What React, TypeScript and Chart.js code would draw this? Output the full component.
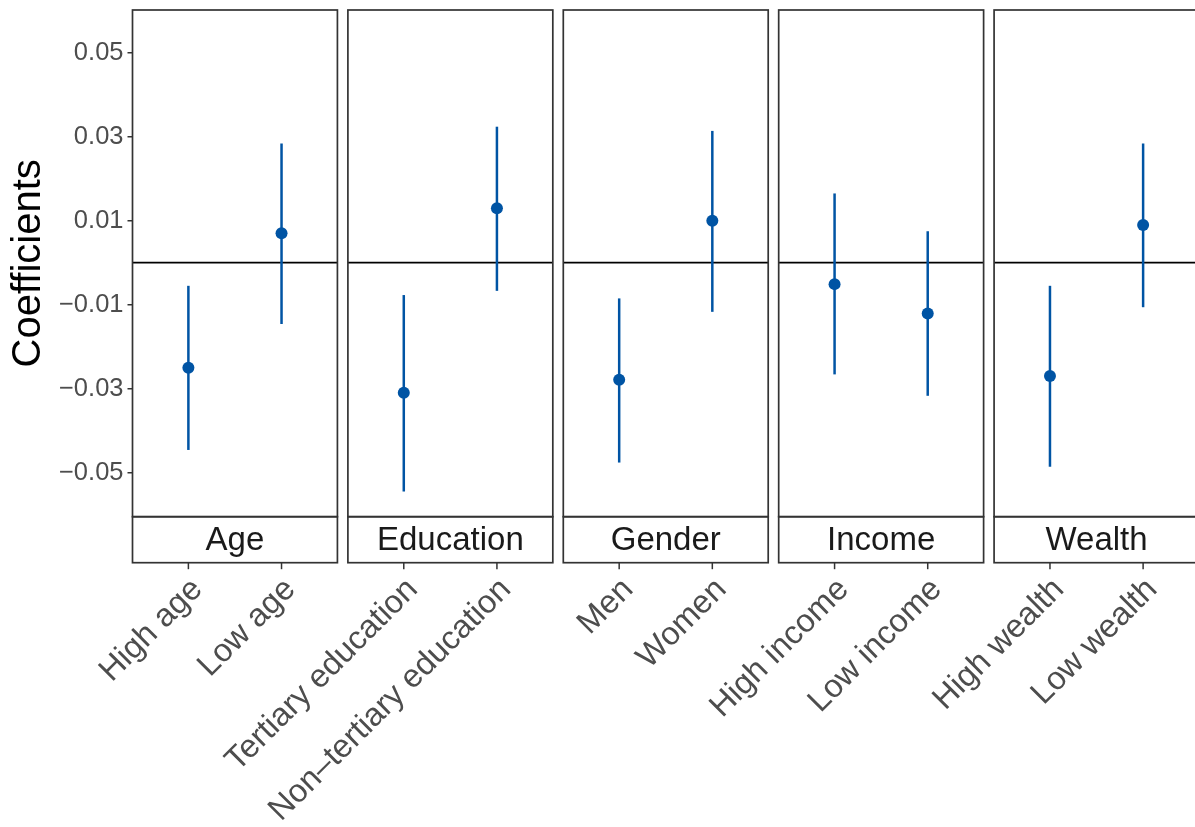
import { useEffect, useRef } from 'react';
import { Chart, registerables } from 'chart.js';

Chart.register(...registerables);

// ---- data ----
const groups = ['Age', 'Education', 'Gender', 'Income', 'Wealth'];
const categories = [
  'High age', 'Low age',
  'Tertiary education', 'Non\u2013tertiary education',
  'Men', 'Women',
  'High income', 'Low income',
  'High wealth', 'Low wealth',
];
const estimates = [-0.0250, 0.0070, -0.0310, 0.0130, -0.0279, 0.0100, -0.0051, -0.0121, -0.0270, 0.0090];
const lower = [-0.0446, -0.0146, -0.0545, -0.0067, -0.0476, -0.0117, -0.0266, -0.0317, -0.0486, -0.0106];
const upper = [-0.0055, 0.0284, -0.0077, 0.0324, -0.0085, 0.0314, 0.0165, 0.0075, -0.0055, 0.0284];
const yTicks = [-0.05, -0.03, -0.01, 0.01, 0.03, 0.05];

// ---- layout constants ----
const PANEL_W = 2.2;
const PERIOD = 2.3125;
const XMAX = 4 * PERIOD + PANEL_W;
const xPos = categories.map((_, i) => Math.floor(i / 2) * PERIOD + 0.6 + (i % 2));
const BLUE = '#0054A4';
const FONT = '"Liberation Sans", Arial, Helvetica, sans-serif';
const STRIP_H = 46;

const fmt = (v: number) => {
  const s = Math.abs(v).toFixed(2);
  return v < 0 ? '\u2212' + s : s;
};

const facetPlugin = {
  id: 'facets',
  beforeDatasetsDraw(chart: any) {
    const { ctx, scales } = chart;
    const xs = scales.x, ys = scales.y;
    const y0 = ys.getPixelForValue(0);
    ctx.save();
    ctx.strokeStyle = '#000000';
    ctx.lineWidth = 1.8;
    groups.forEach((_, p) => {
      const l = xs.getPixelForValue(p * PERIOD);
      const r = xs.getPixelForValue(p * PERIOD + PANEL_W);
      ctx.beginPath();
      ctx.moveTo(l, y0);
      ctx.lineTo(r, y0);
      ctx.stroke();
    });
    ctx.strokeStyle = BLUE;
    ctx.lineWidth = 2.5;
    categories.forEach((_, i) => {
      const x = xs.getPixelForValue(xPos[i]);
      ctx.beginPath();
      ctx.moveTo(x, ys.getPixelForValue(lower[i]));
      ctx.lineTo(x, ys.getPixelForValue(upper[i]));
      ctx.stroke();
    });
    ctx.restore();
  },
  afterDatasetsDraw(chart: any) {
    const { ctx, chartArea, scales } = chart;
    const xs = scales.x;
    const top = chartArea.top, bottom = chartArea.bottom;
    ctx.save();
    ctx.strokeStyle = '#333333';
    ctx.lineWidth = 1.7;
    groups.forEach((g, p) => {
      const l = xs.getPixelForValue(p * PERIOD);
      const r = xs.getPixelForValue(p * PERIOD + PANEL_W);
      ctx.strokeRect(l, top, r - l, bottom - top);
      ctx.strokeRect(l, bottom, r - l, STRIP_H);
      ctx.fillStyle = '#1A1A1A';
      ctx.font = `33px ${FONT}`;
      ctx.textAlign = 'center';
      ctx.textBaseline = 'middle';
      ctx.fillText(g, (l + r) / 2, bottom + STRIP_H / 2 + 1);
    });
    ctx.lineWidth = 1.5;
    categories.forEach((_, i) => {
      const x = xs.getPixelForValue(xPos[i]);
      ctx.beginPath();
      ctx.moveTo(x, bottom + STRIP_H);
      ctx.lineTo(x, bottom + STRIP_H + 6.5);
      ctx.stroke();
    });
    ctx.restore();
  },
};

export default function App() {
  const ref = useRef<HTMLCanvasElement | null>(null);
  useEffect(() => {
    if (!ref.current) return;
    Chart.defaults.font.family = FONT;
    const chart = new Chart(ref.current, {
      type: 'scatter',
      data: {
        datasets: [
          {
            data: xPos.map((x, i) => ({ x, y: estimates[i] })),
            pointRadius: 6,
            pointHoverRadius: 6,
            backgroundColor: BLUE,
            borderWidth: 0,
          },
        ],
      },
      options: {
        responsive: false,
        animation: false,
        layout: { padding: { top: 10, right: 5.5, left: 0, bottom: 0 } },
        plugins: { legend: { display: false }, tooltip: { enabled: false } },
        scales: {
          x: {
            type: 'linear',
            min: 0,
            max: XMAX,
            afterFit: (s: any) => {
              s.height = 827 - 516.7;
              s.paddingLeft = 0; s.paddingRight = 0; s.paddingTop = 0; s.paddingBottom = 0;
            },
            afterBuildTicks: (s: any) => { s.ticks = xPos.map((v) => ({ value: v })); },
            ticks: {
              autoSkip: false,
              minRotation: 45,
              maxRotation: 45,
              padding: 54,
              labelOffset: 9,
              color: '#4D4D4D',
              font: { size: 32.5, family: FONT },
              callback: (_v: any, i: number) => categories[i],
            },
            grid: { display: false, drawTicks: false },
            border: { display: false },
          },
          y: {
            min: -0.0605,
            max: 0.0602,
            afterFit: (s: any) => {
              s.width = 132.5;
              s.paddingLeft = 0; s.paddingRight = 0; s.paddingTop = 0; s.paddingBottom = 0;
            },
            afterBuildTicks: (s: any) => { s.ticks = yTicks.map((v) => ({ value: v })); },
            ticks: {
              padding: 4,
              color: '#4D4D4D',
              font: { size: 25.5, family: FONT },
              callback: (v: any) => fmt(Number(v)),
            },
            grid: { drawOnChartArea: false, drawTicks: true, tickLength: 5, color: '#333333', lineWidth: 1.5 },
            border: { display: false },
            title: {
              display: true,
              text: 'Coefficients',
              color: '#000000',
              font: { size: 40, family: FONT },
              padding: { top: 5, bottom: 0 },
            },
          },
        },
      },
      plugins: [facetPlugin],
    });
    return () => chart.destroy();
  }, []);
  return (
    <div style={{ position: 'fixed', left: 0, top: 0, width: 1195, height: 827, overflow: 'hidden', background: '#fff' }}>
      <canvas ref={ref} width={1205} height={827} style={{ display: 'block' }} />
    </div>
  );
}
